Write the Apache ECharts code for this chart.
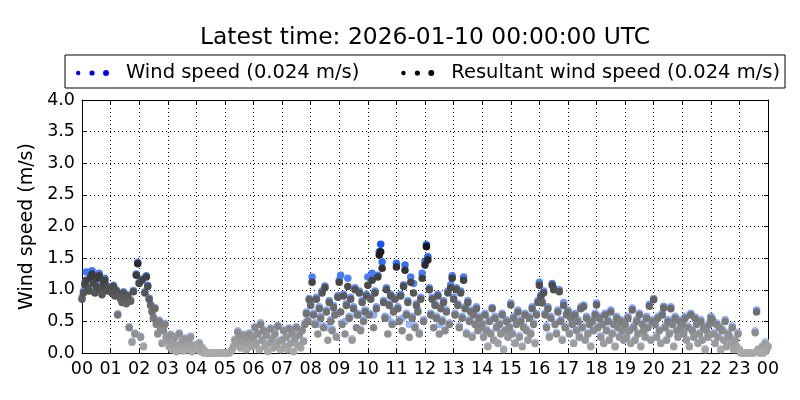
<!DOCTYPE html>
<html><head><meta charset="utf-8">
<script src="https://cdn.jsdelivr.net/npm/echarts@6/dist/echarts.min.js"></script>
<style>html,body{margin:0;padding:0;background:#fff}#c{width:800px;height:400px}</style>
</head><body><div id="c"></div>
<script>
// 3-minute samples, one row per hour, 00:00 .. 24:00
const stepMinutes = 3;
const resultantSpeed = [
 0.85,0.95,1.08,1.15,1.02,0.98,1.20,1.25,1.10,0.95,1.05,1.18,1.22,1.00,0.92,1.10,1.15,1.05,0.98,1.02,
 1.00,0.95,1.05,0.90,0.98,0.60,0.92,0.85,0.80,0.95,0.88,0.78,0.90,0.40,0.82,0.17,0.97,0.30,1.23,1.41,
 1.10,0.25,1.15,0.10,0.95,1.20,1.05,0.85,0.75,0.65,0.55,0.70,0.45,0.30,0.50,0.40,0.15,0.35,0.45,0.25,
 0.20,0.10,0.28,0.05,0.15,0.25,0.02,0.12,0.30,0.08,0.18,0.03,0.22,0.10,0.05,0.15,0.25,0.02,0.08,0.12,
 0.10,0.05,0.15,0.02,0.08,0.00,0.03,0.00,0.00,0.00,0.00,0.00,0.00,0.00,0.00,0.00,0.00,0.00,0.00,0.00,
 0.00,0.00,0.00,0.00,0.02,0.05,0.10,0.20,0.15,0.33,0.25,0.08,0.18,0.28,0.12,0.05,0.22,0.30,0.15,0.10,
 0.25,0.40,0.15,0.30,0.05,0.45,0.20,0.35,0.10,0.28,0.02,0.15,0.38,0.22,0.08,0.30,0.12,0.42,0.18,0.05,
 0.20,0.35,0.10,0.25,0.05,0.38,0.15,0.30,0.02,0.22,0.40,0.12,0.28,0.08,0.35,0.18,0.45,0.62,0.50,0.84,
 0.75,1.12,0.60,0.45,0.85,0.30,0.70,0.55,0.95,0.40,1.03,0.65,0.20,0.80,0.50,0.35,0.72,0.60,0.25,0.88,
 1.12,0.65,0.45,0.90,0.30,0.75,1.05,0.55,0.85,0.20,0.70,1.00,0.40,0.60,0.95,0.35,0.80,0.50,0.65,0.90,
 1.07,0.60,0.85,1.15,0.40,0.95,0.70,1.20,1.55,1.60,1.34,0.80,0.55,1.00,0.30,0.75,0.90,0.45,0.65,0.85,
 1.36,0.70,0.50,0.90,0.35,1.05,1.31,0.60,0.80,0.25,1.12,0.55,0.95,0.40,0.75,0.65,0.30,0.85,1.18,0.50,
 1.39,1.68,1.47,1.00,0.60,0.85,0.40,0.75,0.55,0.90,0.30,0.70,0.50,0.80,0.35,0.65,0.95,0.45,1.03,1.18,
 0.85,0.60,1.00,0.75,0.40,0.95,0.55,1.15,0.70,0.30,0.80,0.50,0.65,0.25,0.60,0.45,0.70,0.35,0.55,0.40,
 0.45,0.25,0.60,0.35,0.10,0.50,0.30,0.70,0.20,0.55,0.40,0.15,0.45,0.30,0.60,0.05,0.35,0.50,0.25,0.40,
 0.76,0.30,0.55,0.15,0.45,0.65,0.25,0.50,0.10,0.40,0.60,0.35,0.20,0.55,0.30,0.70,0.45,0.15,0.60,0.80,
 1.07,0.89,0.79,0.95,0.60,0.40,0.70,0.25,0.55,1.07,1.00,0.45,0.30,0.65,0.97,0.50,0.20,0.75,0.40,0.60,
 0.65,0.30,0.55,0.45,0.15,0.60,0.35,0.50,0.25,0.70,0.40,0.73,0.20,0.55,0.30,0.45,0.10,0.50,0.35,0.60,
 0.76,0.40,0.55,0.25,0.45,0.15,0.60,0.35,0.50,0.20,0.65,0.30,0.45,0.10,0.55,0.40,0.25,0.50,0.35,0.20,
 0.45,0.25,0.55,0.35,0.15,0.68,0.40,0.20,0.50,0.30,0.60,0.10,0.45,0.35,0.25,0.55,0.40,0.74,0.20,0.50,
 0.84,0.45,0.25,0.55,0.35,0.15,0.60,0.71,0.40,0.20,0.50,0.30,0.70,0.45,0.10,0.55,0.35,0.25,0.50,0.40,
 0.45,0.30,0.55,0.20,0.40,0.10,0.60,0.35,0.25,0.54,0.45,0.15,0.30,0.50,0.20,0.40,0.05,0.35,0.25,0.45,
 0.55,0.52,0.30,0.15,0.45,0.25,0.40,0.05,0.35,0.20,0.50,0.10,0.30,0.25,0.15,0.40,0.05,0.20,0.10,0.30,
 0.05,0.00,0.00,0.00,0.00,0.00,0.00,0.00,0.00,0.00,0.00,0.32,0.65,0.05,0.00,0.00,0.10,0.00,0.15,0.05,
 0.10
];
const windSpeed = [
 0.88,0.98,1.12,1.28,1.05,1.00,1.28,1.30,1.13,0.97,1.07,1.20,1.26,1.02,0.94,1.12,1.18,1.07,1.00,1.04,
 1.02,0.97,1.07,0.92,1.00,0.62,0.94,0.87,0.82,0.97,0.90,0.80,0.92,0.42,0.84,0.19,0.99,0.32,1.25,1.43,
 1.12,0.27,1.17,0.12,0.97,1.22,1.07,0.87,0.77,0.67,0.57,0.72,0.47,0.32,0.52,0.42,0.17,0.37,0.47,0.27,
 0.22,0.12,0.30,0.06,0.17,0.27,0.03,0.14,0.32,0.10,0.20,0.04,0.24,0.12,0.06,0.17,0.27,0.03,0.10,0.14,
 0.12,0.06,0.17,0.03,0.10,0.00,0.04,0.00,0.00,0.00,0.00,0.00,0.00,0.00,0.00,0.00,0.00,0.00,0.00,0.00,
 0.00,0.00,0.00,0.00,0.03,0.06,0.12,0.22,0.17,0.35,0.27,0.10,0.20,0.30,0.14,0.06,0.24,0.32,0.17,0.12,
 0.27,0.42,0.17,0.32,0.06,0.48,0.22,0.37,0.12,0.30,0.03,0.17,0.40,0.24,0.10,0.32,0.14,0.44,0.20,0.06,
 0.22,0.37,0.12,0.27,0.06,0.40,0.17,0.32,0.03,0.24,0.42,0.14,0.30,0.10,0.37,0.20,0.48,0.65,0.52,0.86,
 0.78,1.20,0.63,0.48,0.88,0.45,0.73,0.58,0.98,0.43,1.06,0.68,0.40,0.83,0.53,0.38,0.75,0.63,0.27,0.91,
 1.15,1.23,0.48,0.93,0.50,0.78,1.18,0.58,0.88,0.23,0.73,1.03,0.60,0.63,0.98,0.38,0.83,0.53,0.68,0.93,
 1.20,0.63,0.88,1.26,0.60,0.98,0.73,1.23,1.60,1.72,1.44,0.83,0.58,1.03,0.55,0.78,0.93,0.48,0.68,0.88,
 1.42,0.73,0.53,0.93,0.55,1.08,1.39,0.63,0.83,0.45,1.20,0.58,1.10,0.43,0.78,0.68,0.33,0.88,1.26,0.53,
 1.45,1.71,1.52,1.03,0.63,0.88,0.58,0.78,0.58,0.93,0.45,0.73,0.53,0.83,0.38,0.68,0.98,0.48,1.08,1.22,
 0.88,0.63,1.03,0.78,0.43,0.98,0.58,1.20,0.73,0.33,0.83,0.53,0.68,0.28,0.63,0.48,0.73,0.38,0.58,0.43,
 0.48,0.28,0.63,0.38,0.12,0.53,0.33,0.72,0.22,0.58,0.43,0.17,0.48,0.33,0.63,0.07,0.38,0.53,0.28,0.43,
 0.79,0.33,0.58,0.17,0.48,0.68,0.28,0.53,0.12,0.43,0.63,0.38,0.22,0.58,0.33,0.73,0.48,0.17,0.63,0.83,
 1.12,0.92,0.82,0.98,0.63,0.43,0.73,0.28,0.58,1.10,1.03,0.48,0.33,0.68,1.00,0.53,0.22,0.80,0.43,0.63,
 0.68,0.33,0.58,0.48,0.17,0.63,0.38,0.53,0.28,0.73,0.43,0.76,0.22,0.58,0.33,0.48,0.12,0.53,0.38,0.63,
 0.79,0.43,0.58,0.28,0.48,0.17,0.63,0.38,0.53,0.22,0.68,0.33,0.48,0.12,0.58,0.43,0.28,0.53,0.38,0.22,
 0.48,0.28,0.58,0.38,0.17,0.71,0.43,0.22,0.53,0.33,0.63,0.12,0.48,0.38,0.28,0.58,0.43,0.77,0.22,0.53,
 0.86,0.48,0.28,0.58,0.38,0.17,0.63,0.74,0.43,0.22,0.53,0.33,0.73,0.48,0.12,0.58,0.38,0.28,0.53,0.43,
 0.48,0.33,0.58,0.22,0.43,0.12,0.63,0.38,0.28,0.57,0.48,0.17,0.33,0.53,0.22,0.43,0.07,0.38,0.28,0.48,
 0.58,0.55,0.33,0.17,0.48,0.28,0.43,0.07,0.38,0.22,0.53,0.12,0.33,0.28,0.17,0.43,0.07,0.22,0.12,0.33,
 0.07,0.00,0.00,0.00,0.00,0.00,0.00,0.00,0.00,0.00,0.00,0.35,0.68,0.07,0.00,0.00,0.12,0.00,0.18,0.07,
 0.12
];
const titleText = 'Latest time: 2026-01-10 00:00:00 UTC';
const seriesNames = ['Wind speed (0.024 m/s)', 'Resultant wind speed (0.024 m/s)'];
const yTicks = [0, 0.5, 1, 1.5, 2, 2.5, 3, 3.5, 4];

const hoursOf = i => i * stepMinutes / 60;
const windData = windSpeed.map((v, i) => [hoursOf(i), v]);
const resData = resultantSpeed.map((v, i) => [hoursOf(i), v]);

const FONT = 'DejaVu Sans';
// three-dot legend marker
const dots = (r1, r2, r3) =>
  `path://M${-r1},0a${r1},${r1} 0 1,0 ${2*r1},0a${r1},${r1} 0 1,0 ${-2*r1},0Z` +
  `M${14-r2},0a${r2},${r2} 0 1,0 ${2*r2},0a${r2},${r2} 0 1,0 ${-2*r2},0Z` +
  `M${28-r3},0a${r3},${r3} 0 1,0 ${2*r3},0a${r3},${r3} 0 1,0 ${-2*r3},0Z`;
const legendIcon = dots(2.2, 2.6, 3.0);

const chart = echarts.init(document.getElementById('c'), null, {renderer: 'canvas'});
const xAxisBase = {
  type: 'value', min: 0, max: 24, interval: 1,
  axisLine: {show: true, onZero: false, lineStyle: {color: '#000', width: 1}},
  axisTick: {show: true, inside: true, length: 4, lineStyle: {color: '#000'}},
};
const yAxisBase = {
  type: 'value', min: 0, max: 4, interval: 0.5,
  axisLine: {show: true, onZero: false, lineStyle: {color: '#000', width: 1}},
  axisTick: {show: true, inside: true, length: 4, lineStyle: {color: '#000'}},
};
chart.setOption({
  animation: false,
  backgroundColor: '#fff',
  title: {text: titleText, left: 195, top: 21,
    textStyle: {fontFamily: FONT, fontSize: 23.4, fontWeight: 'normal', color: '#000'}},
  graphic: [{type: 'rect', shape: {x: 65, y: 55, width: 720, height: 33},
    style: {fill: 'none', stroke: '#000', lineWidth: 1}, silent: true}],
  legend: {
    left: 71, top: 58, itemGap: 42, itemWidth: 33, itemHeight: 6,
    icon: legendIcon,
    textStyle: {fontFamily: FONT, fontSize: 19.5, color: '#000', padding: [0, 0, 0, 12]},
    data: [
      {name: seriesNames[0], itemStyle: {color: '#0000ff'}},
      {name: seriesNames[1], itemStyle: {color: '#000000'}}
    ]
  },
  grid: {left: 82, right: 32, top: 100, bottom: 47, show: false},
  visualMap: [
    {type: 'continuous', show: false, seriesIndex: 0, dimension: 1, min: 0, max: 1.9,
      inRange: {color: ['#c4dcff', '#0046ff']}},
    {type: 'continuous', show: false, seriesIndex: 1, dimension: 1, min: 0, max: 1.9,
      inRange: {color: ['#aaaaaa', '#000000']}}
  ],
  xAxis: [
    Object.assign({}, xAxisBase, {position: 'bottom',
      axisLabel: {fontFamily: FONT, fontSize: 17.5, color: '#000', margin: 7,
        formatter: v => String(v % 24).padStart(2, '0')},
      splitLine: {show: true, lineStyle: {color: '#000', type: [1, 3], width: 1}}}),
    Object.assign({}, xAxisBase, {position: 'top', axisLabel: {show: false}, splitLine: {show: false}})
  ],
  yAxis: [
    Object.assign({}, yAxisBase, {position: 'left',
      name: 'Wind speed (m/s)', nameLocation: 'middle', nameGap: 36,
      nameTextStyle: {fontFamily: FONT, fontSize: 19, color: '#000'},
      axisLabel: {fontFamily: FONT, fontSize: 17.5, color: '#000', margin: 7,
        formatter: v => yTicks.includes(v) ? v.toFixed(1) : ''},
      splitLine: {show: true, lineStyle: {color: '#000', type: [1, 3], width: 1}}}),
    Object.assign({}, yAxisBase, {position: 'right', axisLabel: {show: false}, splitLine: {show: false}})
  ],
  series: [
    {name: seriesNames[0], type: 'scatter', xAxisIndex: 0, yAxisIndex: 0,
      symbolSize: 7.5, data: windData, itemStyle: {opacity: 1}},
    {name: seriesNames[1], type: 'scatter', xAxisIndex: 0, yAxisIndex: 0,
      symbolSize: 7.5, data: resData, itemStyle: {opacity: 1}}
  ]
});
</script></body></html>
